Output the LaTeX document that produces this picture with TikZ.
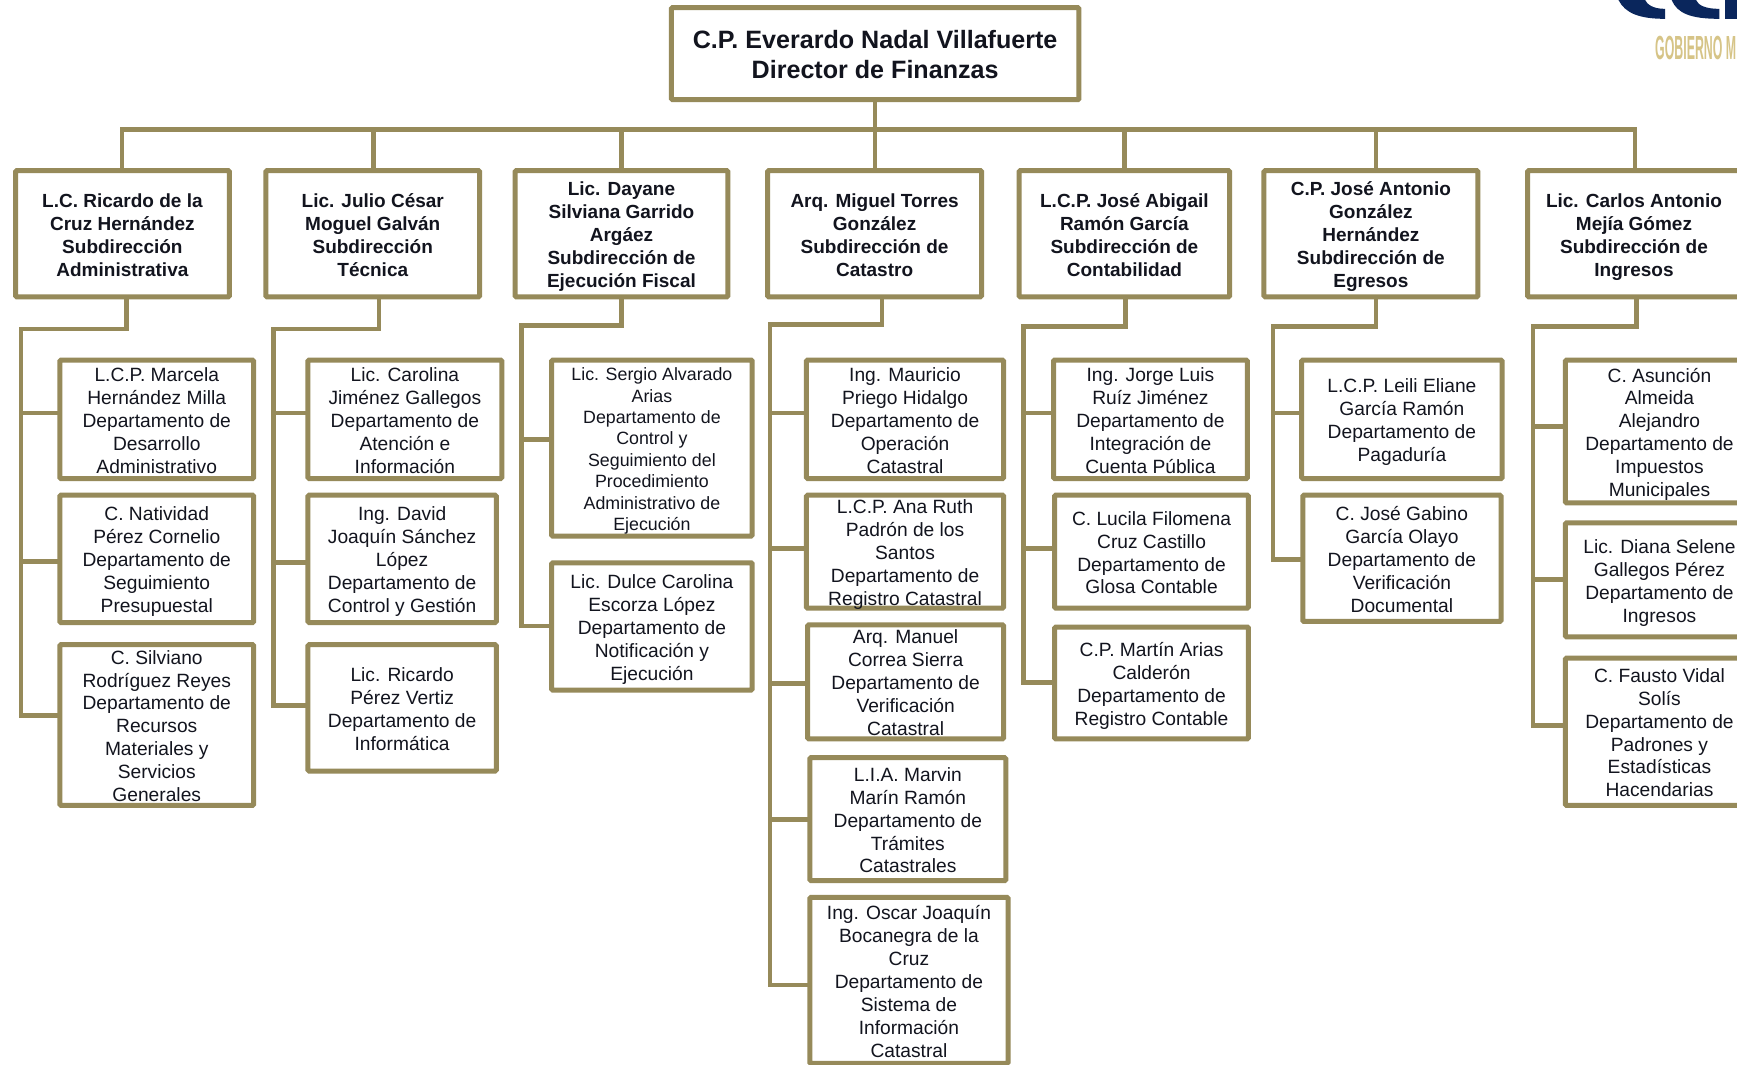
\documentclass[tikz,border=0pt]{standalone}
\usepackage{fontspec}
\setmainfont{Liberation Sans}
\definecolor{olive}{RGB}{150,138,90}
\definecolor{txt}{RGB}{18,20,30}
\definecolor{logoblue}{RGB}{10,38,92}
\definecolor{logogold}{RGB}{214,196,135}
\newcommand{\tb}[1]{\vbox to 0pt{\vss\vskip3.3pt\hbox{\begin{tabular}{@{}c@{}}#1\end{tabular}}\vss}}
\newcommand{\bx}[7][dept]{%
  \pgfmathsetmacro{\cxx}{(#3+#5)/2}\pgfmathsetmacro{\cyy}{(#4+#6)/2}%
  \pgfmathsetmacro{\www}{(#5-#3)*0.5539}\pgfmathsetmacro{\hhh}{(#6-#4)*0.5539}%
  \node[#1,minimum width=\www pt,minimum height=\hhh pt] (#2) at (\cxx,\cyy) {\tb{#7}};}
\tikzset{
  boxbase/.style={draw=olive,line width=2.5pt,fill=white,inner sep=0pt,text=txt,rounded corners=0.6pt},
  head/.style={boxbase,font=\bfseries\fontsize{12.55}{15}\selectfont},
  subdir/.style={boxbase,font=\bfseries\fontsize{9.5}{11.47}\selectfont},
  dept/.style={boxbase,font=\fontsize{9.6}{11.47}\selectfont},
  deptsmall/.style={boxbase,font=\fontsize{8.9}{10.7}\selectfont},
  wire/.style={draw=olive,line width=2.3pt,line join=miter,line cap=rect}
}
\begin{document}
\begin{tikzpicture}[x=0.5539pt,y=-0.5539pt]
\clip (0,0) rectangle (1568,961);
\fill[white] (0,0) rectangle (1568,961);
% logo
\fill[logoblue] (1461,0) .. controls (1467,12) and (1480,17) .. (1503,17) -- (1503,8) .. controls (1492,8) and (1487,4) .. (1485,0) -- cycle;
\fill[logoblue] (1509,0) .. controls (1514,12) and (1526,17) .. (1552,17) -- (1552,8) .. controls (1540,8) and (1533,5) .. (1531,0) -- cycle;
\fill[logoblue] (1557,0) rectangle (1568,17);
\node[anchor=west,inner sep=0pt,xscale=0.37,text=logogold,font=\bfseries\fontsize{16.7}{18}\selectfont] (logotext) at (1494,43) {GOBIERNO M};
% bus coordinates
\coordinate (t1) at (110,117);
\coordinate (t2) at (337,117);
\coordinate (t3) at (561,117);
\coordinate (t4) at (790,117);
\coordinate (t5) at (1015,117);
\coordinate (t6) at (1242,117);
\coordinate (t7) at (1476,117);
% stems and buses of the columns
\coordinate (s1) at (114,297);\coordinate (b1) at (19,297);
\coordinate (s2) at (342,297);\coordinate (b2) at (247,297);
\coordinate (s3) at (561,294);\coordinate (b3) at (471,294);
\coordinate (s4) at (796,293);\coordinate (b4) at (695,293);
\coordinate (s5) at (1016,295);\coordinate (b5) at (924,295);
\coordinate (s6) at (1242,295);\coordinate (b6) at (1149,295);
\coordinate (s7) at (1477,295);\coordinate (b7) at (1384,295);
% junctions
\coordinate (j1a) at (19,373);\coordinate (j1b) at (19,507);\coordinate (j1c) at (19,646);
\coordinate (j2a) at (247,373);\coordinate (j2b) at (247,508);\coordinate (j2c) at (247,637);
\coordinate (j3a) at (471,397);\coordinate (j3b) at (471,565);
\coordinate (j4a) at (695,373);\coordinate (j4b) at (695,495);\coordinate (j4c) at (695,617);\coordinate (j4d) at (695,740);\coordinate (j4e) at (695,889);
\coordinate (j5a) at (924,373);\coordinate (j5b) at (924,495);\coordinate (j5c) at (924,616);
\coordinate (j6a) at (1149,373);\coordinate (j6b) at (1149,505);
\coordinate (j7a) at (1384,385);\coordinate (j7b) at (1384,523);\coordinate (j7c) at (1384,655);
% boxes
\bx[head]{top}{606}{7}{974}{90}{C.P. Everardo Nadal Villafuerte\\Director de Finanzas}
\bx[subdir]{a1}{14}{154}{207}{268}{L.C. Ricardo de la\\Cruz Hernández\\Subdirección\\Administrativa}
\bx[subdir]{a2}{240}{154}{433}{268}{Lic. Julio César\\Moguel Galván\\Subdirección\\Técnica}
\bx[subdir]{a3}{465}{154}{657}{268}{Lic. Dayane\\Silviana Garrido\\Argáez\\Subdirección de\\Ejecución Fiscal}
\bx[subdir]{a4}{693}{154}{886}{268}{Arq. Miguel Torres\\González\\Subdirección de\\Catastro}
\bx[subdir]{a5}{920}{154}{1110}{268}{L.C.P. José Abigail\\Ramón García\\Subdirección de\\Contabilidad}
\bx[subdir]{a6}{1141}{154}{1334}{268}{C.P. José Antonio\\González\\Hernández\\Subdirección de\\Egresos}
\bx[subdir]{a7}{1379}{154}{1571}{268}{Lic. Carlos Antonio\\Mejía Gómez\\Subdirección de\\Ingresos}
\bx{c1a}{54}{325}{229}{432}{L.C.P. Marcela\\Hernández Milla\\Departamento de\\Desarrollo\\Administrativo}
\bx{c1b}{54}{447}{229}{562}{C. Natividad\\Pérez Cornelio\\Departamento de\\Seguimiento\\Presupuestal}
\bx{c1c}{54}{582}{229}{727}{C. Silviano\\Rodríguez Reyes\\Departamento de\\Recursos\\Materiales y\\Servicios\\Generales}
\bx{c2a}{278}{325}{453}{432}{Lic. Carolina\\Jiménez Gallegos\\Departamento de\\Atención e\\Información}
\bx{c2b}{278}{447}{448}{562}{Ing. David\\Joaquín Sánchez\\López\\Departamento de\\Control y Gestión}
\bx{c2c}{278}{582}{448}{696}{Lic. Ricardo\\Pérez Vertiz\\Departamento de\\Informática}
\bx[deptsmall]{c3a}{498}{325}{679}{484}{Lic. Sergio Alvarado\\Arias\\Departamento de\\Control y\\Seguimiento del\\Procedimiento\\Administrativo de\\Ejecución}
\bx{c3b}{498}{508}{679}{623}{Lic. Dulce Carolina\\Escorza López\\Departamento de\\Notificación  y\\Ejecución}
\bx{c4a}{728}{325}{906}{432}{Ing. Mauricio\\Priego Hidalgo\\Departamento de\\Operación\\Catastral}
\bx{c4b}{728}{447}{906}{549}{L.C.P. Ana Ruth\\Padrón de los\\Santos\\Departamento de\\Registro Catastral}
\bx{c4c}{729}{564}{906}{667}{Arq. Manuel\\Correa Sierra\\Departamento de\\Verificación\\Catastral}
\bx{c4d}{731}{684}{908}{795}{L.I.A. Marvin\\Marín Ramón\\Departamento de\\Trámites\\Catastrales}
\bx{c4e}{731}{810}{910}{960}{Ing. Oscar Joaquín\\Bocanegra de la\\Cruz\\Departamento de\\Sistema de\\Información\\Catastral}
\bx{c5a}{951}{325}{1126}{432}{Ing. Jorge Luis\\Ruíz Jiménez\\Departamento de\\Integración de\\Cuenta Pública}
\bx{c5b}{952}{447}{1127}{549}{C. Lucila Filomena\\Cruz Castillo\\Departamento de\\Glosa Contable}
\bx{c5c}{952}{566}{1127}{667}{C.P. Martín Arias\\Calderón\\Departamento de\\Registro Contable}
\bx{c6a}{1175}{325}{1356}{432}{L.C.P. Leili Eliane\\García Ramón\\Departamento de\\Pagaduría}
\bx{c6b}{1176}{447}{1355}{561}{C. José Gabino\\García Olayo\\Departamento de\\Verificación\\Documental}
\bx{c7a}{1413}{325}{1583}{454}{C. Asunción\\Almeida\\Alejandro\\Departamento de\\Impuestos\\Municipales}
\bx{c7b}{1413}{472}{1583}{575}{Lic. Diana Selene\\Gallegos Pérez\\Departamento de\\Ingresos}
\bx{c7c}{1413}{594}{1583}{727}{C. Fausto Vidal\\Solís\\Departamento de\\Padrones  y\\Estadísticas\\Hacendarias}
% connectors
\draw[wire] (top.south) -- (t4);
\draw[wire] (t1) -- (t7);
\foreach \i in {1,...,7}{
  \draw[wire] (t\i) -- (t\i |- a\i.north);
  \draw[wire] (s\i |- a\i.south) -- (s\i) -- (b\i);
}
\draw[wire] (b1) -- (j1c); \draw[wire] (b2) -- (j2c); \draw[wire] (b3) -- (j3b);
\draw[wire] (b4) -- (j4e); \draw[wire] (b5) -- (j5c); \draw[wire] (b6) -- (j6b);
\draw[wire] (b7) -- (j7c);
\foreach \j in {1a,1b,1c,2a,2b,2c,3a,3b,4a,4b,4c,4d,4e,5a,5b,5c,6a,6b,7a,7b,7c}{
  \draw[wire] (j\j) -- (c\j.west |- j\j);
}
\end{tikzpicture}
\end{document}
